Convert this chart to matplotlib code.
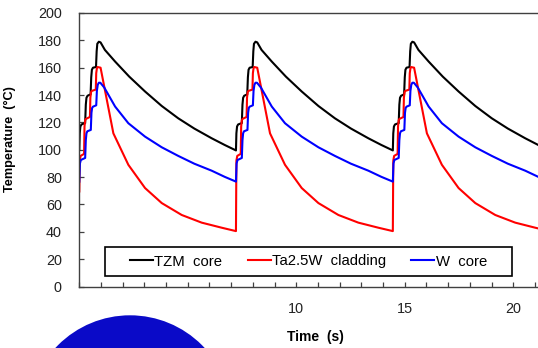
import matplotlib
matplotlib.use("Agg")
import matplotlib.pyplot as plt
from matplotlib.patches import Rectangle, Ellipse
from matplotlib.lines import Line2D

plt.rcParams['font.family'] = ['Liberation Sans', 'DejaVu Sans']

# ---- data ----
tzm_time = [0, 0.02, 0.05, 0.10, 0.27, 0.30, 0.33, 0.38, 0.52, 0.55, 0.58, 0.63, 0.77, 0.80, 0.83, 0.90, 0.98, 1.18, 1.65, 2.30, 3.03, 3.80, 4.56, 5.30, 6.10, 6.70,
            7.22, 7.24, 7.27, 7.32, 7.49, 7.52, 7.55, 7.60, 7.74, 7.77, 7.80, 7.85, 7.99, 8.02, 8.05, 8.12, 8.20, 8.40, 8.87, 9.52, 10.25, 11.02, 11.78, 12.52, 13.32, 13.92,
            14.45, 14.47, 14.50, 14.55, 14.72, 14.75, 14.78, 14.83, 14.97, 15.00, 15.03, 15.08, 15.22, 15.25, 15.28, 15.35, 15.43, 15.63, 16.10, 16.75, 17.48, 18.25, 19.01, 19.75, 20.55, 21.15, 21.67]
tzm_temp = [100, 112, 117, 118.5, 119.5, 133, 138, 139.5, 140.5, 153, 158.5, 160, 160.5, 172, 177.5, 179, 178.5, 173, 164.5, 153.5, 142.6, 132, 123, 115.5, 108.4, 103.5,
            99.5, 112, 117, 118.5, 119.5, 133, 138, 139.5, 140.5, 153, 158.5, 160, 160.5, 172, 177.5, 179, 178.5, 173, 164.5, 153.5, 142.6, 132, 123, 115.5, 108.4, 103.5,
            99.5, 112, 117, 118.5, 119.5, 133, 138, 139.5, 140.5, 153, 158.5, 160, 160.5, 172, 177.5, 179, 178.5, 173, 164.5, 153.5, 142.6, 132, 123, 115.5, 108.4, 103.5, 99.5]

clad_time = [0, 0.02, 0.06, 0.22, 0.24, 0.27, 0.30, 0.49, 0.51, 0.54, 0.57, 0.76, 0.78, 0.81, 0.84, 0.98, 1.57, 2.26, 3.03, 3.80, 4.72, 5.64, 6.56,
             7.22, 7.24, 7.28, 7.44, 7.46, 7.49, 7.52, 7.71, 7.73, 7.76, 7.79, 7.98, 8.00, 8.03, 8.06, 8.20, 8.79, 9.48, 10.25, 11.02, 11.94, 12.86, 13.78,
             14.45, 14.47, 14.51, 14.67, 14.69, 14.72, 14.75, 14.94, 14.96, 14.99, 15.02, 15.21, 15.23, 15.26, 15.29, 15.43, 16.02, 16.71, 17.48, 18.25, 19.17, 20.09, 21.01, 21.67]
clad_temp = [69.5, 92, 95.5, 97, 117, 121.5, 122.5, 124, 138, 142, 143, 144, 156, 159.5, 160.5, 160, 112, 89, 72, 61, 52.3, 46.7, 43,
             40.5, 92, 95.5, 97, 117, 121.5, 122.5, 124, 138, 142, 143, 144, 156, 159.5, 160.5, 160, 112, 89, 72, 61, 52.3, 46.7, 43,
             40.5, 92, 95.5, 97, 117, 121.5, 122.5, 124, 138, 142, 143, 144, 156, 159.5, 160.5, 160, 112, 89, 72, 61, 52.3, 46.7, 43, 40.5]

w_time = [0, 0.03, 0.07, 0.27, 0.30, 0.33, 0.37, 0.53, 0.56, 0.59, 0.63, 0.78, 0.81, 0.85, 0.90, 0.97, 1.15, 1.65, 2.26, 3.03, 3.80, 4.56, 5.30, 6.10, 6.70,
          7.22, 7.25, 7.29, 7.49, 7.52, 7.55, 7.59, 7.75, 7.78, 7.81, 7.85, 8.00, 8.03, 8.07, 8.12, 8.19, 8.37, 8.87, 9.48, 10.25, 11.02, 11.78, 12.52, 13.32, 13.92,
          14.45, 14.48, 14.52, 14.72, 14.75, 14.78, 14.82, 14.98, 15.01, 15.04, 15.08, 15.23, 15.26, 15.30, 15.35, 15.42, 15.60, 16.10, 16.71, 17.48, 18.25, 19.01, 19.75, 20.55, 21.15, 21.67]
w_temp = [76.7, 90, 92.5, 94, 107, 112, 113.5, 114.5, 127, 130.5, 131.5, 132.5, 143, 147.5, 149, 149, 145.5, 131.6, 119.4, 109.6, 101.8, 95.5, 89.8, 84.7, 80.2,
          76.7, 90, 92.5, 94, 107, 112, 113.5, 114.5, 127, 130.5, 131.5, 132.5, 143, 147.5, 149, 149, 145.5, 131.6, 119.4, 109.6, 101.8, 95.5, 89.8, 84.7, 80.2,
          76.7, 90, 92.5, 94, 107, 112, 113.5, 114.5, 127, 130.5, 131.5, 132.5, 143, 147.5, 149, 149, 145.5, 131.6, 119.4, 109.6, 101.8, 95.5, 89.8, 84.7, 80.2, 76.7]

series_labels = ["TZM  core", "Ta2.5W  cladding", "W  core"]
series_colors = ["black", "#ff0000", "#0000ff"]
y_ticks = [0, 20, 40, 60, 80, 100, 120, 140, 160, 180, 200]
x_ticks = list(range(0, 22))
x_tick_labels = {10: "10", 15: "15", 20: "20"}

# ---- figure ----
W, H = 538, 348
fig = plt.figure(figsize=(W / 100, H / 100), dpi=100)
ax_left, ax_bottom_px, ax_top_px = 79.3, 286.5, 13.0
ax = fig.add_axes([ax_left / W, 1 - ax_bottom_px / H, 1 - ax_left / W, (ax_bottom_px - ax_top_px) / H])

for t, v, c, lab in zip([tzm_time, clad_time, w_time], [tzm_temp, clad_temp, w_temp], series_colors, series_labels):
    ax.plot(t, v, color=c, lw=1.5, label=lab, solid_joinstyle='round')

ax.set_xlim(0, 21.14)
ax.set_ylim(0, 200)
ax.set_yticks(y_ticks)
ax.set_xticks(x_ticks)
ax.set_xticklabels([x_tick_labels.get(x, "") for x in x_ticks])

spine_col = '#404040'
for s in ['left', 'bottom', 'top']:
    ax.spines[s].set_color(spine_col)
    ax.spines[s].set_linewidth(1.0)
ax.spines['right'].set_visible(False)
ax.tick_params(axis='both', direction='in', length=3.5, width=0.9, color=spine_col)
ax.tick_params(axis='y', labelsize=10.4, pad=12.6, labelcolor='#222222')
ax.tick_params(axis='x', labelsize=10.4, pad=11.4, labelcolor='#222222')

ax.set_xlabel("Time  (s)", fontsize=10, fontweight='bold')
ax.xaxis.set_label_coords((315 - ax_left) / (W - ax_left), (ax_bottom_px - 330.5) / (ax_bottom_px - ax_top_px))
ax.set_ylabel("Temperature  (°C)", fontsize=9.2, fontweight='bold')
ax.yaxis.set_label_coords((16 - ax_left) / (W - ax_left), (ax_bottom_px - 139) / (ax_bottom_px - ax_top_px))

# legend
bx0, bx1, by0, by1 = 105, 512, 247, 276
fig.patches.append(Rectangle((bx0 / W, 1 - by1 / H), (bx1 - bx0) / W, (by1 - by0) / H,
                             transform=fig.transFigure, fill=False, edgecolor='black', lw=1.2, zorder=5))
leg = fig.legend(loc='center', bbox_to_anchor=((bx0 + bx1) / 2 / W, 1 - (by0 + by1) / 2 / H),
                 ncol=3, frameon=False, fontsize=10.7, handlelength=1.55, handletextpad=0.1,
                 columnspacing=1.7, borderpad=0.2)
for lh in leg.get_lines():
    lh.set_linewidth(1.5)

# partial image of blue disk at bottom left
fig.patches.append(Ellipse((130 / W, 1 - 417 / H), 2 * 101.7 / W, 2 * 101.7 / H,
                           transform=fig.transFigure, facecolor='#0a0ac8', edgecolor='none', zorder=1))

fig.savefig("out.png", dpi=100)
